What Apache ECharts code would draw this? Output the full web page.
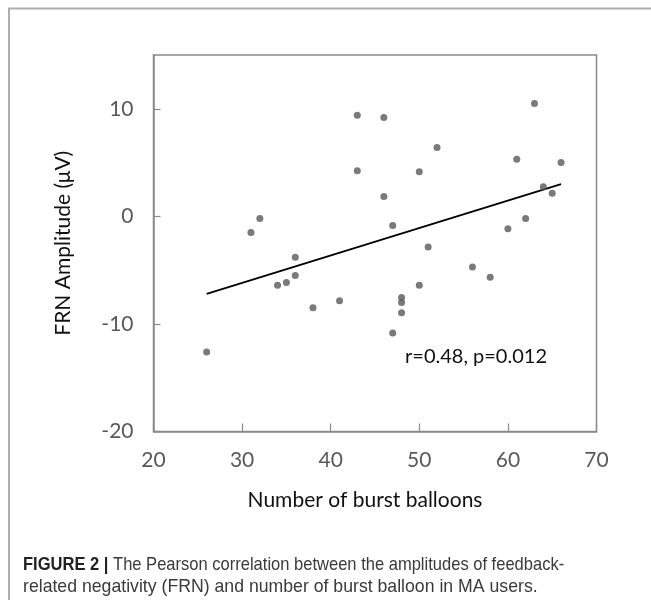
<!DOCTYPE html>
<html>
<head>
<meta charset="utf-8">
<script src="https://cdn.jsdelivr.net/npm/echarts@6/dist/echarts.min.js"></script>
<style>
  html, body { margin: 0; padding: 0; background: #fff; }
  #chart { width: 651px; height: 600px; }
</style>
</head>
<body>
<div id="chart"></div>
<script>
// 散点数据：气球爆破数 vs FRN 振幅
const balloons = [26, 31, 32, 34, 35, 36, 36, 38, 41, 43, 43, 46, 46, 47, 47, 48, 48, 48,
  50, 50, 51, 52, 56, 58, 60, 61, 62, 63, 64, 65, 66];
const frnAmp = [-12.6, -1.5, -0.2, -6.4, -6.15, -5.5, -3.8, -8.5, -7.85, 9.4, 4.25, 9.2, 1.85, -0.85, -10.85, -7.55, -8.0, -8.95,
  4.15, -6.4, -2.85, 6.4, -4.7, -5.65, -1.15, 5.3, -0.2, 10.5, 2.75, 2.15, 5.0];

// 回归线端点
const trendX = [26, 66];
const trendY = [-7.2, 3.0];

const xTicks = [20, 30, 40, 50, 60, 70];
const yTicks = [-20, -10, 0, 10];

const chartFont = 'Lato';
const capFont = '"Liberation Sans", sans-serif';

const renderChart = () => {
  const el = document.getElementById('chart');
  const myChart = echarts.init(el, null, { renderer: 'canvas' });

  const option = {
    backgroundColor: '#fff',
    animation: false,
    grid: {
      left: 153.5,
      right: 54.5,
      top: 55,
      bottom: 168.5,
      show: true,
      borderColor: '#8a8a8a',
      borderWidth: 1.5
    },
    xAxis: {
      type: 'value',
      min: xTicks[0],
      max: xTicks[xTicks.length - 1],
      interval: 10,
      name: 'Number of burst balloons',
      nameLocation: 'middle',
      nameGap: 58,
      nameTextStyle: { fontFamily: chartFont, fontSize: 21, color: '#111', padding: [0, 20, 0, 0] },
      axisLine: { onZero: false, lineStyle: { color: '#8a8a8a', width: 1.5 } },
      axisTick: { inside: true, length: 8, lineStyle: { color: '#8a8a8a', width: 1.2 } },
      axisLabel: { fontFamily: chartFont, fontSize: 21, color: '#595959', margin: 18 },
      splitLine: { show: false }
    },
    yAxis: {
      type: 'value',
      min: yTicks[0],
      max: 15,
      interval: 10,
      name: 'FRN Amplitude (μV)',
      nameLocation: 'middle',
      nameGap: 80,
      nameTextStyle: { fontFamily: chartFont, fontSize: 21, color: '#111' },
      axisLine: { onZero: false, lineStyle: { color: '#8a8a8a', width: 1.5 } },
      axisTick: { inside: true, length: 7, lineStyle: { color: '#8a8a8a', width: 1.2 } },
      axisLabel: { fontFamily: chartFont, fontSize: 21, color: '#595959', margin: 20, showMaxLabel: false },
      splitLine: { show: false }
    },
    series: [
      {
        name: 'FRN',
        type: 'scatter',
        symbolSize: 7,
        itemStyle: { color: '#595959' },
        data: balloons.map((b, i) => [b, frnAmp[i]]),
        z: 3
      },
      {
        name: 'Trend',
        type: 'line',
        showSymbol: false,
        lineStyle: { color: '#000', width: 1.8 },
        data: trendX.map((x, i) => [x, trendY[i]]),
        z: 2
      }
    ],
    graphic: [
      {
        type: 'rect',
        shape: { x: 9, y: 8.5, width: 660, height: 620 },
        style: { fill: 'none', stroke: '#adadad', lineWidth: 2 },
        silent: true
      },
      {
        type: 'text',
        left: 405,
        top: 347,
        style: { text: 'r=0.48, p=0.012', fontFamily: chartFont, fontSize: 20, fill: '#111' }
      },
      {
        type: 'text',
        x: 23,
        y: 555,
        scaleX: 0.87,
        style: {
          text: '{b|FIGURE 2 |} The Pearson correlation between the amplitudes of feedback-',
          fontFamily: capFont,
          fontSize: 19,
          fill: '#3a3a3a',
          rich: { b: { fontFamily: capFont, fontSize: 19, fontWeight: 'bold', fill: '#222' } }
        }
      },
      {
        type: 'text',
        x: 23,
        y: 577,
        scaleX: 0.93,
        style: {
          text: 'related negativity (FRN) and number of burst balloon in MA users.',
          fontFamily: capFont,
          fontSize: 19,
          fill: '#3a3a3a'
        }
      }
    ]
  };

  myChart.setOption(option);
};

renderChart();
</script>
</body>
</html>
